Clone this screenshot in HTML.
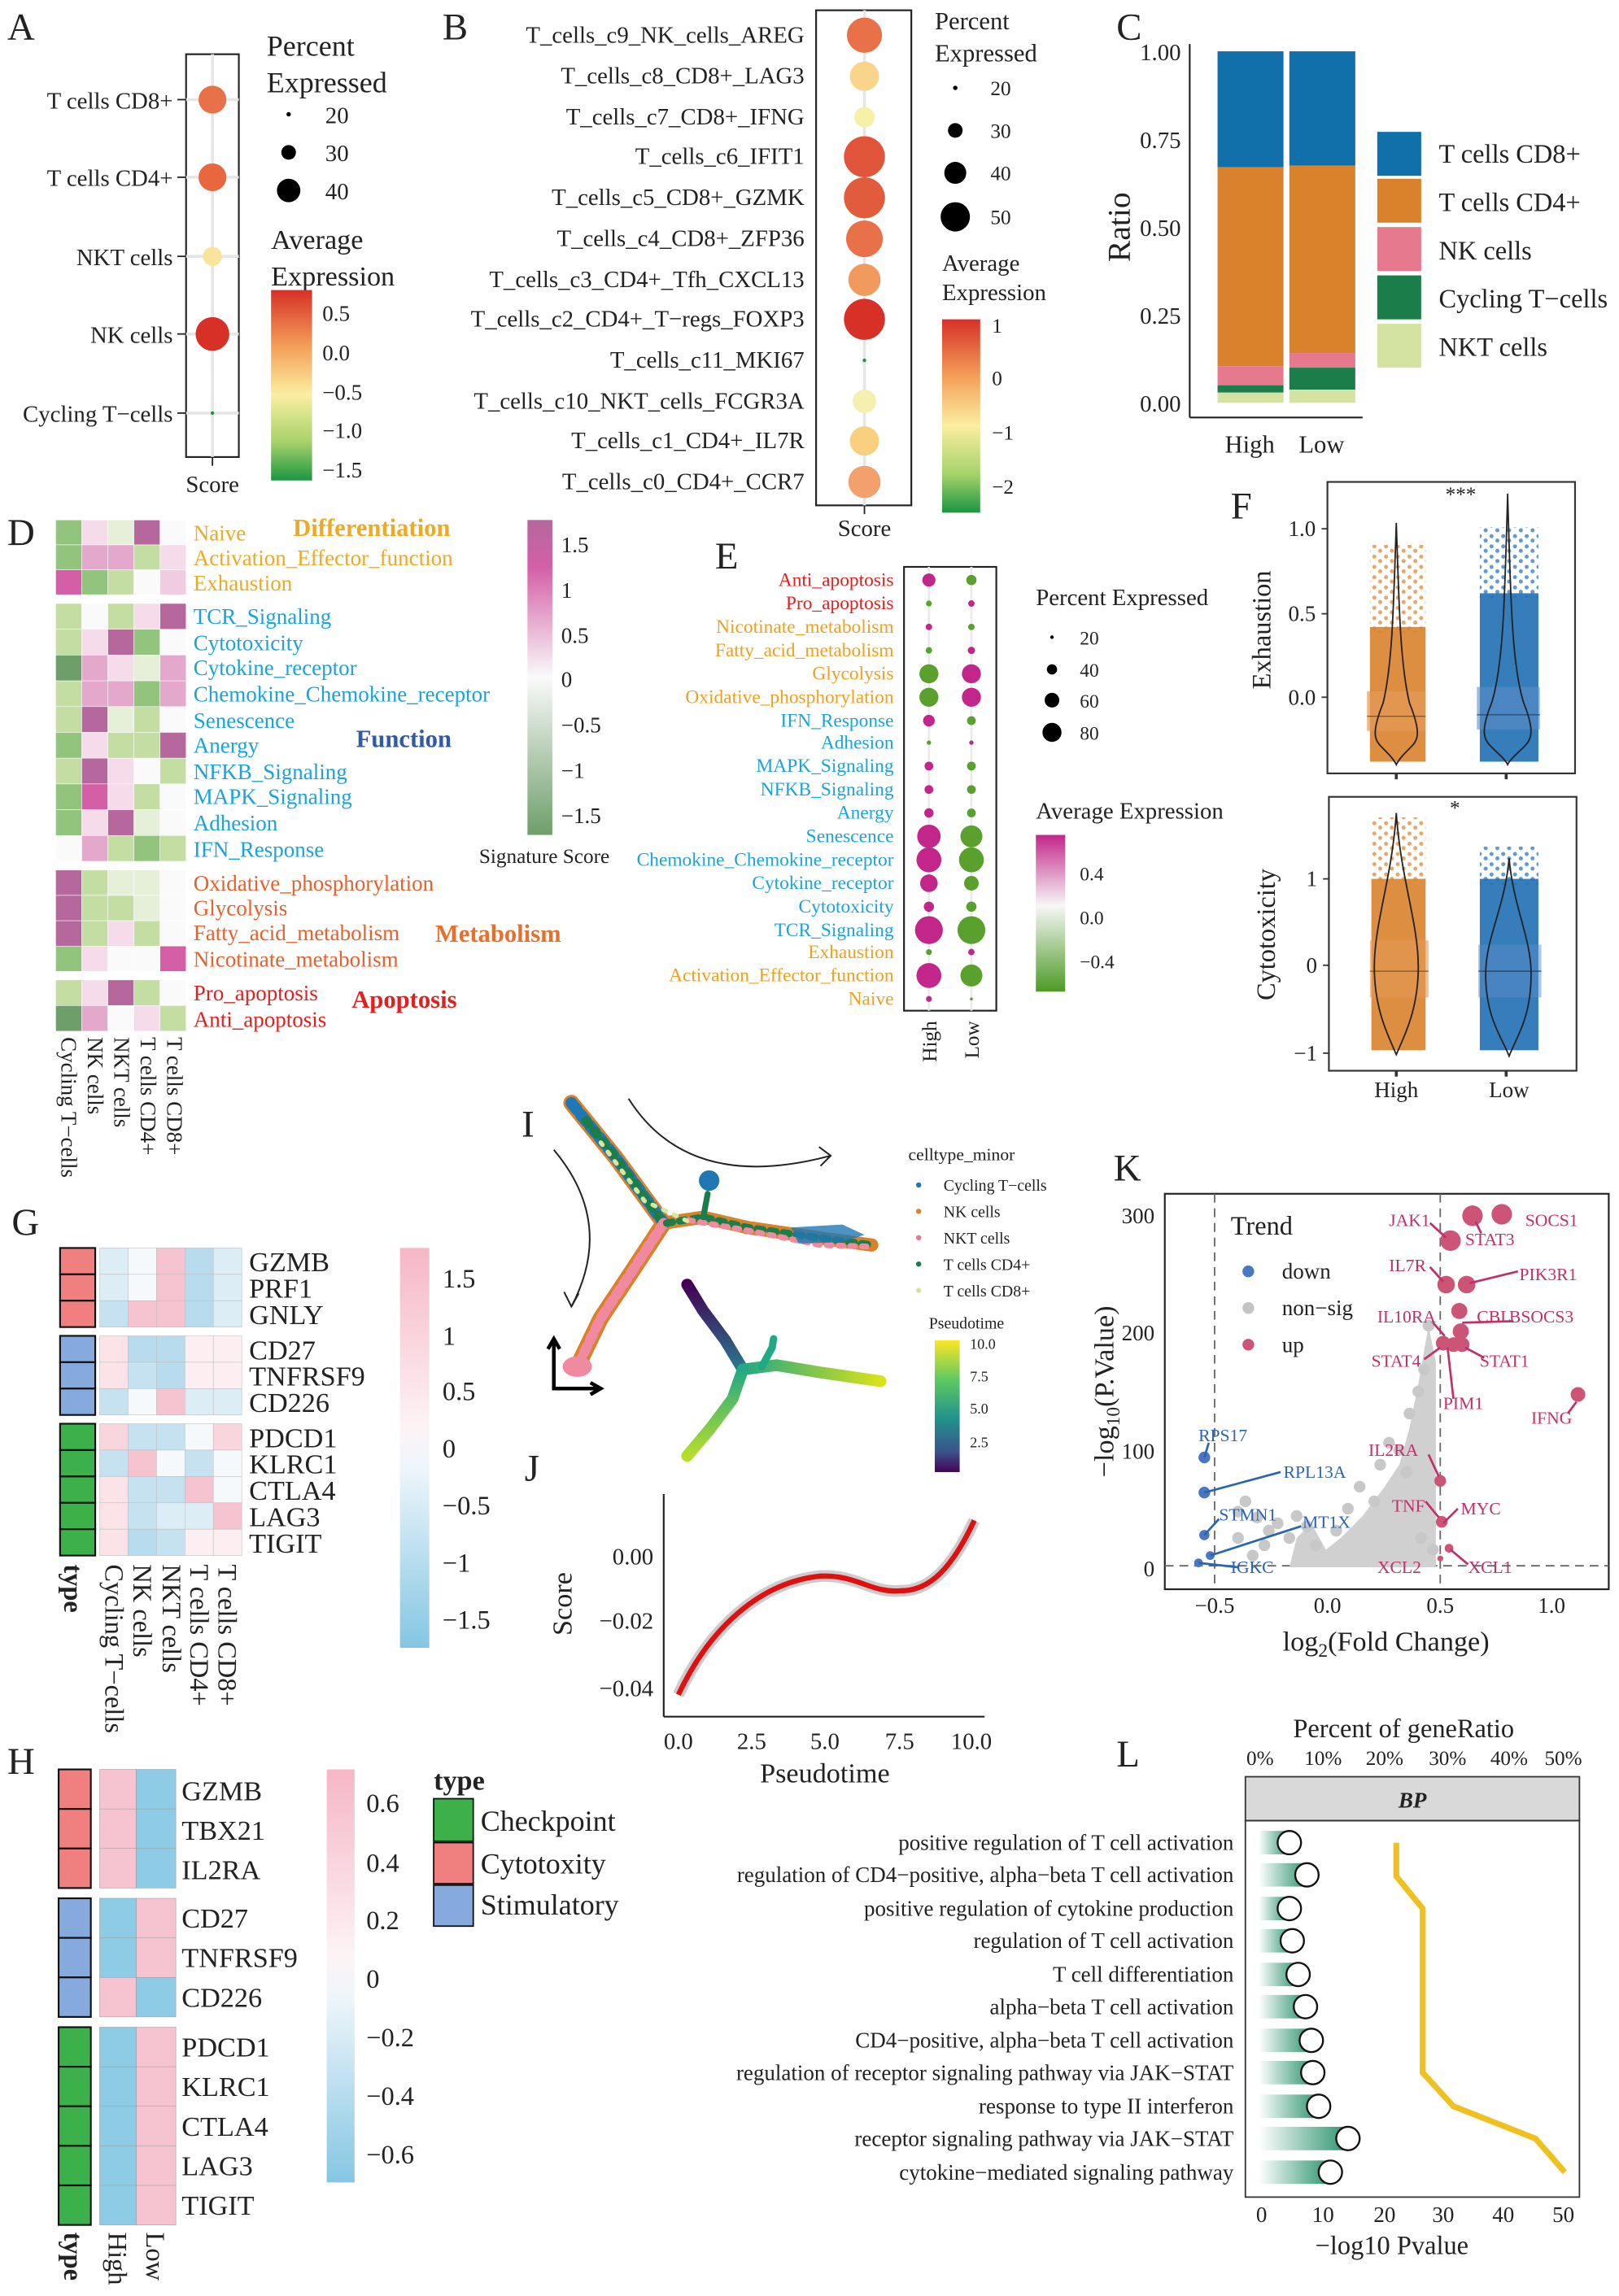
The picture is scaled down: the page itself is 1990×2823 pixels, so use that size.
<!DOCTYPE html>
<html><head><meta charset="utf-8"><style>
html,body{margin:0;padding:0;background:#fff}
svg{display:block}
text{font-family:"Liberation Serif",serif;fill:#222}
</style></head><body>
<svg width="1990" height="2823" viewBox="0 0 1105 1567.5" xmlns="http://www.w3.org/2000/svg">
<defs>
<linearGradient id="gA" x1="0" y1="0" x2="0" y2="1"><stop offset="0" stop-color="#d73027"/><stop offset="0.3" stop-color="#f4a05a"/><stop offset="0.55" stop-color="#fbeea0"/><stop offset="0.8" stop-color="#a6d26a"/><stop offset="1" stop-color="#1a9641"/></linearGradient>
<linearGradient id="gE" x1="0" y1="0" x2="0" y2="1"><stop offset="0" stop-color="#c2268a"/><stop offset="0.45" stop-color="#f7f7f7"/><stop offset="1" stop-color="#4d9a26"/></linearGradient>
<linearGradient id="gD" x1="0" y1="0" x2="0" y2="1"><stop offset="0" stop-color="#b5679e"/><stop offset="0.15" stop-color="#d45fa6"/><stop offset="0.5" stop-color="#fafafa"/><stop offset="1" stop-color="#6e9e6a"/></linearGradient>
<linearGradient id="gG" x1="0" y1="0" x2="0" y2="1"><stop offset="0" stop-color="#f6b6c6"/><stop offset="0.45" stop-color="#fdf3f5"/><stop offset="0.55" stop-color="#eef6fb"/><stop offset="1" stop-color="#86c6e3"/></linearGradient>
<linearGradient id="gV" x1="0" y1="0" x2="0" y2="1"><stop offset="0" stop-color="#fde725"/><stop offset="0.3" stop-color="#5ec962"/><stop offset="0.6" stop-color="#21918c"/><stop offset="0.85" stop-color="#3b528b"/><stop offset="1" stop-color="#440154"/></linearGradient>
<linearGradient id="gL" x1="0" y1="0" x2="1" y2="0"><stop offset="0" stop-color="#ffffff"/><stop offset="1" stop-color="#2e9470"/></linearGradient>
<linearGradient id="gR" x1="0" y1="0" x2="1" y2="0"><stop offset="0" stop-color="#22a884"/><stop offset="1" stop-color="#d8e219"/></linearGradient>
<linearGradient id="gT" x1="0" y1="0" x2="0" y2="1"><stop offset="0" stop-color="#440154"/><stop offset="1" stop-color="#2a788e"/></linearGradient>
<linearGradient id="gB" x1="0" y1="0" x2="0" y2="1"><stop offset="0" stop-color="#22a884"/><stop offset="1" stop-color="#b5de2b"/></linearGradient>
<pattern id="pO" width="8" height="7" patternUnits="userSpaceOnUse"><circle cx="2" cy="2" r="1.4" fill="#d9822b"/><circle cx="6" cy="5" r="1.4" fill="#d9822b"/></pattern>
<pattern id="pB" width="8" height="7" patternUnits="userSpaceOnUse"><circle cx="2" cy="2" r="1.4" fill="#1f6fb4"/><circle cx="6" cy="5" r="1.4" fill="#1f6fb4"/></pattern>
</defs>

<!-- Panel A -->
<text x="5" y="27" font-size="26">A</text>
<rect x="127" y="37" width="36" height="275" fill="none" stroke="#222" stroke-width="1.2"/>
<g stroke="#e6e6e6" stroke-width="2"><line x1="127" y1="68" x2="163" y2="68"/><line x1="127" y1="121" x2="163" y2="121"/><line x1="127" y1="175" x2="163" y2="175"/><line x1="127" y1="228" x2="163" y2="228"/><line x1="127" y1="282" x2="163" y2="282"/><line x1="145" y1="37" x2="145" y2="312"/></g>
<circle cx="145" cy="68" r="9.5" fill="#e8714a"/><circle cx="145" cy="121" r="9.5" fill="#e8673f"/><circle cx="145" cy="175" r="6.5" fill="#f8e49a"/><circle cx="145" cy="228" r="11.5" fill="#d73027"/><circle cx="145" cy="282" r="1.2" fill="#1a9641"/>
<g font-size="16" text-anchor="end"><text x="118" y="74">T cells CD8+</text><text x="118" y="127">T cells CD4+</text><text x="118" y="181">NKT cells</text><text x="118" y="234">NK cells</text><text x="118" y="288">Cycling T−cells</text></g>
<g stroke="#222"><line x1="121" y1="68" x2="127" y2="68"/><line x1="121" y1="121" x2="127" y2="121"/><line x1="121" y1="175" x2="127" y2="175"/><line x1="121" y1="228" x2="127" y2="228"/><line x1="121" y1="282" x2="127" y2="282"/><line x1="145" y1="312" x2="145" y2="318"/></g>
<text x="145" y="336" font-size="16" text-anchor="middle">Score</text>
<text x="182" y="38" font-size="20">Percent</text><text x="182" y="63" font-size="20">Expressed</text>
<circle cx="197" cy="78" r="1.5" fill="#000"/><circle cx="197" cy="104" r="5" fill="#000"/><circle cx="197" cy="130" r="8" fill="#000"/>
<g font-size="16"><text x="222" y="84">20</text><text x="222" y="110">30</text><text x="222" y="136">40</text></g>
<text x="185" y="170" font-size="19">Average</text><text x="185" y="195" font-size="19">Expression</text>
<rect x="185" y="198" width="28" height="130" fill="url(#gA)"/>
<g font-size="15"><text x="220" y="219">0.5</text><text x="220" y="246">0.0</text><text x="220" y="273">−0.5</text><text x="220" y="299">−1.0</text><text x="220" y="326">−1.5</text></g>

<!-- Panel B -->
<text x="302" y="27" font-size="26">B</text>
<rect x="557" y="7" width="65" height="338" fill="none" stroke="#222" stroke-width="1.2"/>
<g stroke="#e6e6e6" stroke-width="2"><line x1="590" y1="7" x2="590" y2="345"/></g>
<g font-size="16" text-anchor="end">
<text x="549" y="29">T_cells_c9_NK_cells_AREG</text><text x="549" y="57">T_cells_c8_CD8+_LAG3</text><text x="549" y="85">T_cells_c7_CD8+_IFNG</text><text x="549" y="112">T_cells_c6_IFIT1</text><text x="549" y="140">T_cells_c5_CD8+_GZMK</text><text x="549" y="168">T_cells_c4_CD8+_ZFP36</text><text x="549" y="196">T_cells_c3_CD4+_Tfh_CXCL13</text><text x="549" y="223">T_cells_c2_CD4+_T−regs_FOXP3</text><text x="549" y="251">T_cells_c11_MKI67</text><text x="549" y="279">T_cells_c10_NKT_cells_FCGR3A</text><text x="549" y="306">T_cells_c1_CD4+_IL7R</text><text x="549" y="334">T_cells_c0_CD4+_CCR7</text></g>
<circle cx="590" cy="24" r="12" fill="#e8714a"/><circle cx="590" cy="52" r="10" fill="#f8d58a"/><circle cx="590" cy="80" r="7" fill="#f7f0a8"/><circle cx="590" cy="107" r="14" fill="#e0553a"/><circle cx="590" cy="135" r="14" fill="#e05c3c"/><circle cx="590" cy="163" r="12.5" fill="#e8714a"/><circle cx="590" cy="191" r="11" fill="#f09a60"/><circle cx="590" cy="218" r="14" fill="#d73027"/><circle cx="590" cy="246" r="1.2" fill="#1a9641"/><circle cx="590" cy="274" r="8" fill="#f5f0b0"/><circle cx="590" cy="301" r="10" fill="#f8d080"/><circle cx="590" cy="329" r="11" fill="#f3a06a"/>
<line x1="590" y1="345" x2="590" y2="351" stroke="#222"/>
<text x="590" y="366" font-size="16" text-anchor="middle">Score</text>
<text x="638" y="20" font-size="17">Percent</text><text x="638" y="42" font-size="17">Expressed</text>
<circle cx="652" cy="60" r="1.5" fill="#000"/><circle cx="652" cy="89" r="5" fill="#000"/><circle cx="652" cy="118" r="7.5" fill="#000"/><circle cx="652" cy="148" r="10" fill="#000"/>
<g font-size="14"><text x="676" y="65">20</text><text x="676" y="94">30</text><text x="676" y="123">40</text><text x="676" y="153">50</text></g>
<text x="643" y="185" font-size="16">Average</text><text x="643" y="205" font-size="16">Expression</text>
<rect x="643" y="218" width="26" height="132" fill="url(#gA)"/>
<g font-size="14"><text x="677" y="227">1</text><text x="677" y="263">0</text><text x="677" y="300">−1</text><text x="677" y="337">−2</text></g>

<!-- Panel C -->
<text x="762" y="27" font-size="26">C</text>
<line x1="812" y1="30" x2="812" y2="285" stroke="#222" stroke-width="1.2"/><line x1="812" y1="285" x2="930" y2="285" stroke="#222" stroke-width="1.2"/>
<g font-size="16" text-anchor="end"><text x="806" y="41">1.00</text><text x="806" y="101">0.75</text><text x="806" y="161">0.50</text><text x="806" y="221">0.25</text><text x="806" y="281">0.00</text></g>
<rect x="831" y="35" width="45" height="80" fill="#1170aa"/><rect x="831" y="114" width="45" height="136" fill="#d9822b"/><rect x="831" y="250" width="45" height="13" fill="#e7798f"/><rect x="831" y="263" width="45" height="5" fill="#1a7d4a"/><rect x="831" y="268" width="45" height="7" fill="#d4e3a2"/>
<rect x="880" y="35" width="45" height="78" fill="#1170aa"/><rect x="880" y="113" width="45" height="128" fill="#d9822b"/><rect x="880" y="241" width="45" height="10" fill="#e7798f"/><rect x="880" y="251" width="45" height="15" fill="#1a7d4a"/><rect x="880" y="266" width="45" height="9" fill="#d4e3a2"/>
<text transform="translate(771,155) rotate(-90)" font-size="22" text-anchor="middle">Ratio</text>
<g font-size="17" text-anchor="middle"><text x="853" y="309">High</text><text x="902" y="309">Low</text></g>
<rect x="940" y="90" width="30" height="30" fill="#1170aa"/><rect x="940" y="122" width="30" height="30" fill="#d9822b"/><rect x="940" y="155" width="30" height="30" fill="#e7798f"/><rect x="940" y="188" width="30" height="30" fill="#1a7d4a"/><rect x="940" y="221" width="30" height="30" fill="#d4e3a2"/>
<g font-size="18"><text x="982" y="111">T cells CD8+</text><text x="982" y="144">T cells CD4+</text><text x="982" y="177">NK cells</text><text x="982" y="210">Cycling T−cells</text><text x="982" y="243">NKT cells</text></g>

<!-- Panel D -->
<text x="5" y="372" font-size="26">D</text>
<g stroke="#fff" stroke-width="0.3">
<rect x="38" y="355" width="17.8" height="17" fill="#93c47d"/><rect x="55.8" y="355" width="17.8" height="17" fill="#f6dceb"/><rect x="73.6" y="355" width="17.8" height="17" fill="#e6f0d8"/><rect x="91.4" y="355" width="17.8" height="17" fill="#b5679e"/><rect x="109.2" y="355" width="17.8" height="17" fill="#fafafa"/>
<rect x="38" y="372" width="17.8" height="17" fill="#93c47d"/><rect x="55.8" y="372" width="17.8" height="17" fill="#e3a8cc"/><rect x="73.6" y="372" width="17.8" height="17" fill="#e3a8cc"/><rect x="91.4" y="372" width="17.8" height="17" fill="#c4dda3"/><rect x="109.2" y="372" width="17.8" height="17" fill="#f6dceb"/>
<rect x="38" y="389" width="17.8" height="17" fill="#d45fa6"/><rect x="55.8" y="389" width="17.8" height="17" fill="#93c47d"/><rect x="73.6" y="389" width="17.8" height="17" fill="#c4dda3"/><rect x="91.4" y="389" width="17.8" height="17" fill="#fafafa"/><rect x="109.2" y="389" width="17.8" height="17" fill="#f1cbe0"/>
</g>
<g stroke="#fff" stroke-width="0.3">
<rect x="38" y="412" width="17.8" height="17.6" fill="#c4dda3"/><rect x="55.8" y="412" width="17.8" height="17.6" fill="#fafafa"/><rect x="73.6" y="412" width="17.8" height="17.6" fill="#c4dda3"/><rect x="91.4" y="412" width="17.8" height="17.6" fill="#f6dceb"/><rect x="109.2" y="412" width="17.8" height="17.6" fill="#b5679e"/>
<rect x="38" y="429.6" width="17.8" height="17.6" fill="#c4dda3"/><rect x="55.8" y="429.6" width="17.8" height="17.6" fill="#f6dceb"/><rect x="73.6" y="429.6" width="17.8" height="17.6" fill="#b5679e"/><rect x="91.4" y="429.6" width="17.8" height="17.6" fill="#93c47d"/><rect x="109.2" y="429.6" width="17.8" height="17.6" fill="#fafafa"/>
<rect x="38" y="447.2" width="17.8" height="17.6" fill="#6e9e6a"/><rect x="55.8" y="447.2" width="17.8" height="17.6" fill="#e3a8cc"/><rect x="73.6" y="447.2" width="17.8" height="17.6" fill="#f6dceb"/><rect x="91.4" y="447.2" width="17.8" height="17.6" fill="#e6f0d8"/><rect x="109.2" y="447.2" width="17.8" height="17.6" fill="#e3a8cc"/>
<rect x="38" y="464.8" width="17.8" height="17.6" fill="#c4dda3"/><rect x="55.8" y="464.8" width="17.8" height="17.6" fill="#e3a8cc"/><rect x="73.6" y="464.8" width="17.8" height="17.6" fill="#e3a8cc"/><rect x="91.4" y="464.8" width="17.8" height="17.6" fill="#93c47d"/><rect x="109.2" y="464.8" width="17.8" height="17.6" fill="#e3a8cc"/>
<rect x="38" y="482.4" width="17.8" height="17.6" fill="#c4dda3"/><rect x="55.8" y="482.4" width="17.8" height="17.6" fill="#b5679e"/><rect x="73.6" y="482.4" width="17.8" height="17.6" fill="#e6f0d8"/><rect x="91.4" y="482.4" width="17.8" height="17.6" fill="#c4dda3"/><rect x="109.2" y="482.4" width="17.8" height="17.6" fill="#fafafa"/>
<rect x="38" y="500" width="17.8" height="17.6" fill="#93c47d"/><rect x="55.8" y="500" width="17.8" height="17.6" fill="#f6dceb"/><rect x="73.6" y="500" width="17.8" height="17.6" fill="#c4dda3"/><rect x="91.4" y="500" width="17.8" height="17.6" fill="#c4dda3"/><rect x="109.2" y="500" width="17.8" height="17.6" fill="#b5679e"/>
<rect x="38" y="517.6" width="17.8" height="17.6" fill="#c4dda3"/><rect x="55.8" y="517.6" width="17.8" height="17.6" fill="#b5679e"/><rect x="73.6" y="517.6" width="17.8" height="17.6" fill="#f6dceb"/><rect x="91.4" y="517.6" width="17.8" height="17.6" fill="#fafafa"/><rect x="109.2" y="517.6" width="17.8" height="17.6" fill="#c4dda3"/>
<rect x="38" y="535.2" width="17.8" height="17.6" fill="#93c47d"/><rect x="55.8" y="535.2" width="17.8" height="17.6" fill="#d45fa6"/><rect x="73.6" y="535.2" width="17.8" height="17.6" fill="#f6dceb"/><rect x="91.4" y="535.2" width="17.8" height="17.6" fill="#c4dda3"/><rect x="109.2" y="535.2" width="17.8" height="17.6" fill="#fafafa"/>
<rect x="38" y="552.8" width="17.8" height="17.6" fill="#93c47d"/><rect x="55.8" y="552.8" width="17.8" height="17.6" fill="#f6dceb"/><rect x="73.6" y="552.8" width="17.8" height="17.6" fill="#b5679e"/><rect x="91.4" y="552.8" width="17.8" height="17.6" fill="#e6f0d8"/><rect x="109.2" y="552.8" width="17.8" height="17.6" fill="#fafafa"/>
<rect x="38" y="570.4" width="17.8" height="17.6" fill="#fafafa"/><rect x="55.8" y="570.4" width="17.8" height="17.6" fill="#e3a8cc"/><rect x="73.6" y="570.4" width="17.8" height="17.6" fill="#c4dda3"/><rect x="91.4" y="570.4" width="17.8" height="17.6" fill="#93c47d"/><rect x="109.2" y="570.4" width="17.8" height="17.6" fill="#c4dda3"/>
</g>
<g stroke="#fff" stroke-width="0.3">
<rect x="38" y="594" width="17.8" height="17.3" fill="#b5679e"/><rect x="55.8" y="594" width="17.8" height="17.3" fill="#c4dda3"/><rect x="73.6" y="594" width="17.8" height="17.3" fill="#e6f0d8"/><rect x="91.4" y="594" width="17.8" height="17.3" fill="#e6f0d8"/><rect x="109.2" y="594" width="17.8" height="17.3" fill="#fafafa"/>
<rect x="38" y="611.3" width="17.8" height="17.3" fill="#b5679e"/><rect x="55.8" y="611.3" width="17.8" height="17.3" fill="#c4dda3"/><rect x="73.6" y="611.3" width="17.8" height="17.3" fill="#c4dda3"/><rect x="91.4" y="611.3" width="17.8" height="17.3" fill="#e6f0d8"/><rect x="109.2" y="611.3" width="17.8" height="17.3" fill="#fafafa"/>
<rect x="38" y="628.6" width="17.8" height="17.3" fill="#b5679e"/><rect x="55.8" y="628.6" width="17.8" height="17.3" fill="#c4dda3"/><rect x="73.6" y="628.6" width="17.8" height="17.3" fill="#f6dceb"/><rect x="91.4" y="628.6" width="17.8" height="17.3" fill="#c4dda3"/><rect x="109.2" y="628.6" width="17.8" height="17.3" fill="#fafafa"/>
<rect x="38" y="645.9" width="17.8" height="17.3" fill="#93c47d"/><rect x="55.8" y="645.9" width="17.8" height="17.3" fill="#f6dceb"/><rect x="73.6" y="645.9" width="17.8" height="17.3" fill="#fafafa"/><rect x="91.4" y="645.9" width="17.8" height="17.3" fill="#fafafa"/><rect x="109.2" y="645.9" width="17.8" height="17.3" fill="#d45fa6"/>
<rect x="38" y="669" width="17.8" height="17.5" fill="#c4dda3"/><rect x="55.8" y="669" width="17.8" height="17.5" fill="#f6dceb"/><rect x="73.6" y="669" width="17.8" height="17.5" fill="#b5679e"/><rect x="91.4" y="669" width="17.8" height="17.5" fill="#c4dda3"/><rect x="109.2" y="669" width="17.8" height="17.5" fill="#fafafa"/>
<rect x="38" y="686.5" width="17.8" height="17.5" fill="#6e9e6a"/><rect x="55.8" y="686.5" width="17.8" height="17.5" fill="#e3a8cc"/><rect x="73.6" y="686.5" width="17.8" height="17.5" fill="#fafafa"/><rect x="91.4" y="686.5" width="17.8" height="17.5" fill="#f6dceb"/><rect x="109.2" y="686.5" width="17.8" height="17.5" fill="#c4dda3"/>
</g>
<g font-size="15">
<text x="132" y="369" style="fill:#eeaa22">Naive</text><text x="132" y="386" style="fill:#eeaa22">Activation_Effector_function</text><text x="132" y="403" style="fill:#eeaa22">Exhaustion</text>
<text x="132" y="426" style="fill:#1aa3dc">TCR_Signaling</text><text x="132" y="444" style="fill:#1aa3dc">Cytotoxicity</text><text x="132" y="461" style="fill:#1aa3dc">Cytokine_receptor</text><text x="132" y="479" style="fill:#1aa3dc">Chemokine_Chemokine_receptor</text><text x="132" y="497" style="fill:#1aa3dc">Senescence</text><text x="132" y="514" style="fill:#1aa3dc">Anergy</text><text x="132" y="532" style="fill:#1aa3dc">NFKB_Signaling</text><text x="132" y="549" style="fill:#1aa3dc">MAPK_Signaling</text><text x="132" y="567" style="fill:#1aa3dc">Adhesion</text><text x="132" y="585" style="fill:#1aa3dc">IFN_Response</text>
<text x="132" y="608" style="fill:#e8602c">Oxidative_phosphorylation</text><text x="132" y="625" style="fill:#e8602c">Glycolysis</text><text x="132" y="642" style="fill:#e8602c">Fatty_acid_metabolism</text><text x="132" y="660" style="fill:#e8602c">Nicotinate_metabolism</text>
<text x="132" y="683" style="fill:#e32020">Pro_apoptosis</text><text x="132" y="701" style="fill:#e32020">Anti_apoptosis</text>
</g>
<g font-size="17" font-weight="bold"><text x="200" y="366" style="fill:#eeaa22">Differentiation</text><text x="243" y="510" style="fill:#2e5aa8">Function</text><text x="297" y="643" style="fill:#e8702c">Metabolism</text><text x="240" y="688" style="fill:#e32020">Apoptosis</text></g>
<g font-size="15"><text transform="translate(42,708) rotate(90)">Cycling T−cells</text><text transform="translate(60,708) rotate(90)">NK cells</text><text transform="translate(78,708) rotate(90)">NKT cells</text><text transform="translate(96,708) rotate(90)">T cells CD4+</text><text transform="translate(114,708) rotate(90)">T cells CD8+</text></g>
<rect x="360" y="355" width="17" height="215" fill="url(#gD)"/>
<g font-size="15"><text x="383" y="377">1.5</text><text x="383" y="408">1</text><text x="383" y="439">0.5</text><text x="383" y="469">0</text><text x="383" y="500">−0.5</text><text x="383" y="531">−1</text><text x="383" y="562">−1.5</text></g>
<text x="327" y="589" font-size="14">Signature Score</text>

<!-- Panel E -->
<text x="488" y="388" font-size="26">E</text>
<rect x="617" y="387" width="63" height="303" fill="none" stroke="#222" stroke-width="1.2"/>
<g stroke="#eaeaea" stroke-width="1.5"><line x1="634" y1="387" x2="634" y2="690"/><line x1="663" y1="387" x2="663" y2="690"/></g>
<g font-size="13" text-anchor="end">
<text x="610" y="400" style="fill:#e32020">Anti_apoptosis</text><text x="610" y="416" style="fill:#e32020">Pro_apoptosis</text><text x="610" y="432" style="fill:#f0a020">Nicotinate_metabolism</text><text x="610" y="448" style="fill:#f0a020">Fatty_acid_metabolism</text><text x="610" y="464" style="fill:#f0a020">Glycolysis</text><text x="610" y="480" style="fill:#f0a020">Oxidative_phosphorylation</text><text x="610" y="496" style="fill:#1aa3dc">IFN_Response</text><text x="610" y="511" style="fill:#1aa3dc">Adhesion</text><text x="610" y="527" style="fill:#1aa3dc">MAPK_Signaling</text><text x="610" y="543" style="fill:#1aa3dc">NFKB_Signaling</text><text x="610" y="559" style="fill:#1aa3dc">Anergy</text><text x="610" y="575" style="fill:#1aa3dc">Senescence</text><text x="610" y="591" style="fill:#1aa3dc">Chemokine_Chemokine_receptor</text><text x="610" y="607" style="fill:#1aa3dc">Cytokine_receptor</text><text x="610" y="623" style="fill:#1aa3dc">Cytotoxicity</text><text x="610" y="639" style="fill:#1aa3dc">TCR_Signaling</text><text x="610" y="654" style="fill:#f0a020">Exhaustion</text><text x="610" y="670" style="fill:#f0a020">Activation_Effector_function</text><text x="610" y="686" style="fill:#f0a020">Naive</text></g>
<g>
<circle cx="634" cy="396" r="4.5" fill="#c2268a"/><circle cx="663" cy="396" r="3.5" fill="#5aa02c"/>
<circle cx="634" cy="412" r="2" fill="#5aa02c"/><circle cx="663" cy="412" r="2.2" fill="#c2268a"/>
<circle cx="634" cy="428" r="2.2" fill="#c2268a"/><circle cx="663" cy="428" r="2.2" fill="#5aa02c"/>
<circle cx="634" cy="444" r="2.2" fill="#5aa02c"/><circle cx="663" cy="444" r="2.5" fill="#c2268a"/>
<circle cx="634" cy="460" r="6.5" fill="#5aa02c"/><circle cx="663" cy="460" r="6.5" fill="#c2268a"/>
<circle cx="634" cy="476" r="6.5" fill="#5aa02c"/><circle cx="663" cy="476" r="6.5" fill="#c2268a"/>
<circle cx="634" cy="492" r="4" fill="#c2268a"/><circle cx="663" cy="492" r="3" fill="#5aa02c"/>
<circle cx="634" cy="507" r="1.5" fill="#5aa02c"/><circle cx="663" cy="507" r="1.5" fill="#c2268a"/>
<circle cx="634" cy="523" r="3" fill="#c2268a"/><circle cx="663" cy="523" r="3" fill="#5aa02c"/>
<circle cx="634" cy="539" r="3" fill="#c2268a"/><circle cx="663" cy="539" r="3" fill="#5aa02c"/>
<circle cx="634" cy="555" r="3.2" fill="#c2268a"/><circle cx="663" cy="555" r="3" fill="#5aa02c"/>
<circle cx="634" cy="571" r="8" fill="#c2268a"/><circle cx="663" cy="571" r="7.5" fill="#5aa02c"/>
<circle cx="634" cy="587" r="8.5" fill="#c2268a"/><circle cx="663" cy="587" r="8.5" fill="#5aa02c"/>
<circle cx="634" cy="603" r="6" fill="#c2268a"/><circle cx="663" cy="603" r="5" fill="#5aa02c"/>
<circle cx="634" cy="619" r="3.5" fill="#c2268a"/><circle cx="663" cy="619" r="3.5" fill="#5aa02c"/>
<circle cx="634" cy="635" r="9.5" fill="#c2268a"/><circle cx="663" cy="635" r="9.5" fill="#5aa02c"/>
<circle cx="634" cy="650" r="2" fill="#5aa02c"/><circle cx="663" cy="650" r="2.2" fill="#c2268a"/>
<circle cx="634" cy="666" r="8.5" fill="#c2268a"/><circle cx="663" cy="666" r="7.5" fill="#5aa02c"/>
<circle cx="634" cy="682" r="2" fill="#c2268a"/><circle cx="663" cy="682" r="1" fill="#5aa02c"/>
</g>
<g font-size="14" text-anchor="end"><text transform="translate(639,697) rotate(-90)">High</text><text transform="translate(668,697) rotate(-90)">Low</text></g>
<text x="707" y="413" font-size="16">Percent Expressed</text>
<circle cx="718" cy="435" r="1.2" fill="#000"/><circle cx="718" cy="457" r="3.5" fill="#000"/><circle cx="718" cy="478" r="5" fill="#000"/><circle cx="718" cy="500" r="6.5" fill="#000"/>
<g font-size="13"><text x="737" y="440">20</text><text x="737" y="462">40</text><text x="737" y="483">60</text><text x="737" y="505">80</text></g>
<text x="707" y="559" font-size="16">Average Expression</text>
<rect x="707" y="570" width="20" height="107" fill="url(#gE)"/>
<g font-size="13"><text x="737" y="601">0.4</text><text x="737" y="631">0.0</text><text x="737" y="661">−0.4</text></g>

<!-- Panel F -->
<text x="840" y="354" font-size="26">F</text>
<rect x="906" y="329" width="169" height="199" fill="none" stroke="#333" stroke-width="1.2"/>
<rect x="907" y="544" width="169" height="187" fill="none" stroke="#333" stroke-width="1.2"/>
<g stroke="#333"><line x1="902" y1="361" x2="906" y2="361"/><line x1="902" y1="419" x2="906" y2="419"/><line x1="902" y1="476" x2="906" y2="476"/><line x1="903" y1="600" x2="907" y2="600"/><line x1="903" y1="659" x2="907" y2="659"/><line x1="903" y1="719" x2="907" y2="719"/><line x1="953" y1="528" x2="953" y2="532" stroke-width="2"/><line x1="1028" y1="528" x2="1028" y2="532" stroke-width="2"/><line x1="953" y1="731" x2="953" y2="735" stroke-width="2"/><line x1="1028" y1="731" x2="1028" y2="735" stroke-width="2"/></g>
<g font-size="15" text-anchor="end" style="fill:#444"><text x="898" y="366">1.0</text><text x="898" y="424">0.5</text><text x="898" y="481">0.0</text><text x="899" y="605">1</text><text x="899" y="664">0</text><text x="899" y="724">−1</text></g>
<text transform="translate(867,430) rotate(-90)" font-size="18" text-anchor="middle">Exhaustion</text>
<text transform="translate(870,638) rotate(-90)" font-size="18" text-anchor="middle">Cytotoxicity</text>
<text x="997" y="342" font-size="14" text-anchor="middle">***</text><text x="993" y="556" font-size="14" text-anchor="middle">*</text>
<!-- top clouds -->
<rect x="935" y="372" width="38" height="60" fill="url(#pO)" opacity="0.7"/>
<rect x="935" y="428" width="38" height="92" fill="#d9822b" opacity="0.9"/>
<rect x="1010" y="360" width="40" height="48" fill="url(#pB)" opacity="0.7"/>
<rect x="1010" y="405" width="40" height="115" fill="#1f6fb4" opacity="0.9"/>
<rect x="933" y="472" width="40" height="27" fill="#e49a55" opacity="0.7"/><line x1="933" y1="489" x2="973" y2="489" stroke="#7a4a10" stroke-width="0.6"/>
<rect x="1008" y="469" width="43" height="29" fill="#5a8cc8" opacity="0.6"/><line x1="1008" y1="488" x2="1051" y2="488" stroke="#1a3a60" stroke-width="0.6"/>
<path d="M953,357 C955,420 956,455 962,480 C970,500 968,505 963,510 C958,515 955,518 953,522 C951,518 948,515 943,510 C938,505 936,500 944,480 C950,455 951,420 953,357Z" fill="none" stroke="#222" stroke-width="1"/>
<path d="M1029,337 C1031,410 1032,455 1040,480 C1048,500 1045,505 1040,510 C1035,515 1031,518 1029,522 C1027,518 1023,515 1018,510 C1013,505 1010,500 1018,480 C1026,455 1027,410 1029,337Z" fill="none" stroke="#222" stroke-width="1"/>
<!-- bottom -->
<rect x="936" y="558" width="37" height="45" fill="url(#pO)" opacity="0.7"/>
<rect x="936" y="600" width="37" height="117" fill="#d9822b" opacity="0.9"/>
<rect x="1010" y="578" width="40" height="26" fill="url(#pB)" opacity="0.7"/>
<rect x="1010" y="600" width="40" height="117" fill="#1f6fb4" opacity="0.9"/>
<rect x="935" y="642" width="40" height="39" fill="#e49a55" opacity="0.6"/><line x1="935" y1="663" x2="975" y2="663" stroke="#7a4a10" stroke-width="0.6"/>
<rect x="1009" y="645" width="43" height="36" fill="#5a8cc8" opacity="0.5"/><line x1="1009" y1="663" x2="1052" y2="663" stroke="#1a3a60" stroke-width="0.6"/>
<path d="M953,555 C956,600 968,630 968,660 C968,690 958,708 953,720 C948,708 938,690 938,660 C938,630 950,600 953,555Z" fill="none" stroke="#222" stroke-width="1"/>
<path d="M1030,586 C1033,620 1045,640 1045,665 C1045,695 1035,708 1030,721 C1025,708 1014,695 1014,665 C1014,640 1027,620 1030,586Z" fill="none" stroke="#222" stroke-width="1"/>
<g font-size="15" text-anchor="middle" style="fill:#444"><text x="953" y="749">High</text><text x="1030" y="749">Low</text></g>

<!-- Panel I -->
<text x="356" y="776" font-size="26">I</text>
<g fill="none" stroke-linecap="round" stroke-linejoin="round">
<polyline points="390,753 420,790 453,835 430,870 410,900 396,929" stroke="#d9822b" stroke-width="11"/>
<polyline points="453,835 480,831 510,838 544,843 595,850" stroke="#d9822b" stroke-width="9"/>
<polyline points="390,753 420,790 453,835" stroke="#1f77b4" stroke-width="8" stroke-dasharray="6 4"/>
<polyline points="400,765 420,790 453,835 430,870 410,900" stroke="#1a7d4a" stroke-width="6" stroke-dasharray="3 6"/>
<polyline points="453,835 430,870 410,900 396,929" stroke="#f08aa0" stroke-width="7" stroke-dasharray="5 4"/>
<polyline points="455,835 480,831 510,838 544,843 595,850" stroke="#1a7d4a" stroke-width="5" stroke-dasharray="4 5"/>
<polyline points="470,833 510,840 560,850 592,851" stroke="#f08aa0" stroke-width="4" stroke-dasharray="3 5"/>
<polyline points="410,780 440,820 470,834" stroke="#d8e6a0" stroke-width="3" stroke-dasharray="2 6"/>
<polyline points="480,831 483,815" stroke="#1a7d4a" stroke-width="4"/>
</g>
<path d="M540,838 L575,836 L590,843 L575,848 L545,849Z" fill="#1f77b4" opacity="0.8"/>
<circle cx="484" cy="806" r="7" fill="#1f77b4"/><ellipse cx="394" cy="933" rx="10" ry="7" fill="#f08aa0"/>
<g fill="none" stroke-linecap="round" stroke-linejoin="round">
<polyline points="469,877 480,895 495,915 507,935" stroke="url(#gT)" stroke-width="8"/>
<polyline points="507,935 530,932 560,937 601,943" stroke="url(#gR)" stroke-width="8"/>
<polyline points="507,935 500,955 485,975 469,994" stroke="url(#gB)" stroke-width="8"/>
<polyline points="520,933 527,920 528,914" stroke="#22a884" stroke-width="5"/>
</g>
<g fill="none" stroke="#222" stroke-width="1.1"><path d="M429,750 Q470,815 567,789"/><path d="M559,783 L567,789 L560,796"/><path d="M378,785 Q420,835 390,892"/><path d="M385,882 L390,892 L395,883"/></g>
<g fill="none" stroke="#000" stroke-width="2.5"><path d="M378,914 L378,948 L410,948"/><path d="M374,921 L378,914 L382,921"/><path d="M403,944 L410,948 L403,952"/></g>
<text x="620" y="792" font-size="12">celltype_minor</text>
<circle cx="627" cy="809" r="1.8" fill="#1f77b4"/><circle cx="627" cy="827" r="1.8" fill="#d9822b"/><circle cx="627" cy="845" r="1.8" fill="#e7798f"/><circle cx="627" cy="863" r="1.8" fill="#1a7d4a"/><circle cx="627" cy="881" r="1.8" fill="#d4e3a2"/>
<g font-size="11"><text x="644" y="813">Cycling T−cells</text><text x="644" y="831">NK cells</text><text x="644" y="849">NKT cells</text><text x="644" y="867">T cells CD4+</text><text x="644" y="885">T cells CD8+</text></g>
<text x="634" y="907" font-size="11">Pseudotime</text>
<rect x="638" y="915" width="17" height="90" fill="url(#gV)"/>
<g font-size="10"><text x="662" y="921">10.0</text><text x="662" y="943">7.5</text><text x="662" y="965">5.0</text><text x="662" y="988">2.5</text></g>

<!-- Panel J -->
<text x="358" y="1011" font-size="26">J</text>
<line x1="453" y1="1020" x2="453" y2="1172" stroke="#222" stroke-width="1.2"/><line x1="453" y1="1172" x2="672" y2="1172" stroke="#222" stroke-width="1.2"/>
<g font-size="16" text-anchor="end"><text x="446" y="1068">0.00</text><text x="446" y="1112">−0.02</text><text x="446" y="1158">−0.04</text></g>
<g font-size="16" text-anchor="middle"><text x="463" y="1194">0.0</text><text x="513" y="1194">2.5</text><text x="563" y="1194">5.0</text><text x="614" y="1194">7.5</text><text x="663" y="1194">10.0</text></g>
<text transform="translate(390,1095) rotate(-90)" font-size="19" text-anchor="middle">Score</text>
<text x="563" y="1217" font-size="19" text-anchor="middle">Pseudotime</text>
<path d="M463,1157 C485,1110 520,1080 560,1076 C585,1075 595,1088 615,1086 C635,1086 650,1070 665,1038" fill="none" stroke="#cccccc" stroke-width="8"/>
<path d="M463,1157 C485,1110 520,1080 560,1076 C585,1075 595,1088 615,1086 C635,1086 650,1070 665,1038" fill="none" stroke="#e01010" stroke-width="3.5"/>

<!-- Panel K -->
<text x="760" y="806" font-size="26">K</text>
<rect x="795" y="815" width="303" height="270" fill="none" stroke="#222" stroke-width="1.2"/>
<g font-size="15" text-anchor="end"><text x="788" y="835">300</text><text x="788" y="915">200</text><text x="788" y="996">100</text><text x="788" y="1076">0</text></g>
<g font-size="15" text-anchor="middle"><text x="829" y="1101">−0.5</text><text x="906" y="1101">0.0</text><text x="983" y="1101">0.5</text><text x="1059" y="1101">1.0</text></g>
<g stroke="#666" stroke-dasharray="6 4" stroke-width="1"><line x1="829" y1="815" x2="829" y2="1085"/><line x1="983" y1="815" x2="983" y2="1085"/><line x1="795" y1="1069" x2="1098" y2="1069"/></g>
<text x="946" y="1127" font-size="19" text-anchor="middle">log<tspan font-size="13" dy="4">2</tspan><tspan dy="-4">(Fold Change)</tspan></text>
<text transform="translate(760,950) rotate(-90)" font-size="19" text-anchor="middle">−log<tspan font-size="13" dy="4">10</tspan><tspan dy="-4">(P.Value)</tspan></text>
<path d="M880,1070 L885,1050 L895,1040 L905,1058 L915,1050 L930,1035 L945,1015 L955,1000 L962,975 L968,945 L975,905 L980,930 L980,1070Z" fill="#d0d0d0"/>
<g fill="#c8c8c8">
<circle cx="845" cy="1032" r="4"/><circle cx="850" cy="1025" r="4"/><circle cx="858" cy="1036" r="4"/><circle cx="866" cy="1045" r="4"/><circle cx="872" cy="1040" r="4"/><circle cx="880" cy="1050" r="4"/><circle cx="863" cy="1055" r="4"/><circle cx="885" cy="1035" r="4"/><circle cx="892" cy="1042" r="4"/><circle cx="898" cy="1055" r="4"/><circle cx="855" cy="1062" r="4"/><circle cx="845" cy="1050" r="4"/><circle cx="920" cy="1030" r="4"/><circle cx="928" cy="1015" r="4"/><circle cx="942" cy="1000" r="4"/><circle cx="948" cy="985" r="4"/><circle cx="955" cy="990" r="4"/><circle cx="962" cy="965" r="4"/><circle cx="968" cy="950" r="4"/><circle cx="972" cy="935" r="4"/><circle cx="975" cy="905" r="4"/><circle cx="960" cy="1005" r="4"/><circle cx="970" cy="1050" r="4"/><circle cx="978" cy="1058" r="4"/><circle cx="938" cy="1025" r="4"/><circle cx="912" cy="1045" r="4"/>
</g>
<g fill="#cc5577"><circle cx="1005" cy="830" r="7"/><circle cx="1025" cy="829" r="7"/><circle cx="990" cy="847" r="7"/><circle cx="987" cy="877" r="6"/><circle cx="1001" cy="877" r="6"/><circle cx="996" cy="895" r="5.5"/><circle cx="997" cy="909" r="5.5"/><circle cx="985" cy="917" r="5"/><circle cx="992" cy="918" r="5"/><circle cx="998" cy="918" r="5"/><circle cx="1077" cy="952" r="5"/><circle cx="983" cy="1011" r="4"/><circle cx="984" cy="1039" r="4"/><circle cx="989" cy="1057" r="3"/><circle cx="983" cy="1064" r="2"/></g>
<g fill="#4a78c0"><circle cx="822" cy="995" r="4"/><circle cx="822" cy="1019" r="4"/><circle cx="822" cy="1048" r="3.5"/><circle cx="818" cy="1067" r="3"/><circle cx="826" cy="1062" r="3"/></g>
<g stroke="#c0306a" stroke-width="1.5"><line x1="976" y1="835" x2="987" y2="845"/><line x1="1007" y1="834" x2="1011" y2="842"/><line x1="976" y1="865" x2="985" y2="875"/><line x1="1036" y1="868" x2="1003" y2="876"/><line x1="998" y1="903" x2="1033" y2="902"/><line x1="978" y1="903" x2="986" y2="912"/><line x1="972" y1="928" x2="983" y2="920"/><line x1="1013" y1="927" x2="1000" y2="920"/><line x1="992" y1="955" x2="988" y2="920"/><line x1="1070" y1="965" x2="1076" y2="957"/><line x1="975" y1="993" x2="982" y2="1008"/><line x1="995" y1="1030" x2="985" y2="1040"/><line x1="973" y1="1025" x2="982" y2="1036"/><line x1="1002" y1="1068" x2="990" y2="1058"/></g>
<g font-size="12"><text x="948" y="837" style="fill:#c0306a">JAK1</text><text x="1041" y="837" style="fill:#c0306a">SOCS1</text><text x="1000" y="850" style="fill:#c0306a">STAT3</text><text x="948" y="868" style="fill:#c0306a">IL7R</text><text x="1037" y="874" style="fill:#c0306a">PIK3R1</text><text x="940" y="903" style="fill:#c0306a">IL10RA</text><text x="1008" y="903" style="fill:#c0306a">CBL</text><text x="1030" y="903" style="fill:#c0306a">BSOCS3</text><text x="936" y="933" style="fill:#c0306a">STAT4</text><text x="1010" y="933" style="fill:#c0306a">STAT1</text><text x="985" y="962" style="fill:#c0306a">PIM1</text><text x="1045" y="972" style="fill:#c0306a">IFNG</text><text x="934" y="994" style="fill:#c0306a">IL2RA</text><text x="950" y="1032" style="fill:#c0306a">TNF</text><text x="997" y="1034" style="fill:#c0306a">MYC</text><text x="940" y="1074" style="fill:#c0306a">XCL2</text><text x="1002" y="1074" style="fill:#c0306a">XCL1</text></g>
<g stroke="#2a64b4" stroke-width="1.5"><line x1="822" y1="995" x2="825" y2="985"/><line x1="822" y1="1019" x2="874" y2="1005"/><line x1="822" y1="1048" x2="832" y2="1037"/><line x1="826" y1="1062" x2="888" y2="1042"/><line x1="818" y1="1067" x2="845" y2="1070"/></g>
<g font-size="12"><text x="818" y="984" style="fill:#2a64b4">RPS17</text><text x="876" y="1009" style="fill:#2a64b4">RPL13A</text><text x="832" y="1038" style="fill:#2a64b4">STMN1</text><text x="889" y="1043" style="fill:#2a64b4">MT1X</text><text x="840" y="1074" style="fill:#2a64b4">IGKC</text></g>
<text x="840" y="843" font-size="18">Trend</text>
<circle cx="852" cy="868" r="4" fill="#4a78c0"/><circle cx="852" cy="893" r="4" fill="#c4c4c4"/><circle cx="852" cy="918" r="4" fill="#cc5577"/>
<g font-size="15"><text x="875" y="873">down</text><text x="875" y="898">non−sig</text><text x="875" y="923">up</text></g>

<!-- Panel L -->
<text x="762" y="1206" font-size="26">L</text>
<text x="958" y="1186" font-size="18" text-anchor="middle">Percent of geneRatio</text>
<g font-size="14" text-anchor="middle"><text x="860" y="1205">0%</text><text x="903" y="1205">10%</text><text x="945" y="1205">20%</text><text x="988" y="1205">30%</text><text x="1030" y="1205">40%</text><text x="1067" y="1205">50%</text></g>
<rect x="850" y="1213" width="228" height="30" fill="#d9d9d9" stroke="#333" stroke-width="1"/>
<text x="964" y="1234" font-size="15" font-weight="bold" font-style="italic" text-anchor="middle">BP</text>
<rect x="850" y="1243" width="228" height="257" fill="none" stroke="#333" stroke-width="1"/>
<g fill="url(#gL)">
<rect x="859" y="1250" width="21" height="16"/><rect x="859" y="1272" width="33" height="16"/><rect x="859" y="1295" width="21" height="16"/><rect x="859" y="1317" width="23" height="16"/><rect x="859" y="1340" width="27" height="16"/><rect x="859" y="1362" width="32" height="16"/><rect x="859" y="1385" width="36" height="16"/><rect x="859" y="1407" width="37" height="16"/><rect x="859" y="1430" width="41" height="16"/><rect x="859" y="1452" width="61" height="16"/><rect x="859" y="1475" width="49" height="16"/>
</g>
<g fill="#fff" stroke="#111" stroke-width="1.3">
<circle cx="880" cy="1258" r="8"/><circle cx="892" cy="1280" r="8"/><circle cx="880" cy="1303" r="8"/><circle cx="882" cy="1325" r="8"/><circle cx="886" cy="1348" r="8"/><circle cx="891" cy="1370" r="8"/><circle cx="895" cy="1393" r="8"/><circle cx="896" cy="1415" r="8"/><circle cx="900" cy="1438" r="8"/><circle cx="920" cy="1460" r="8"/><circle cx="908" cy="1483" r="8"/>
</g>
<polyline points="953,1258 953,1281 971,1303 971,1415 992,1438 1048,1460 1068,1483" fill="none" stroke="#f0c020" stroke-width="4"/>
<g font-size="15" text-anchor="end">
<text x="842" y="1263">positive regulation of T cell activation</text><text x="842" y="1285">regulation of CD4−positive, alpha−beta T cell activation</text><text x="842" y="1308">positive regulation of cytokine production</text><text x="842" y="1330">regulation of T cell activation</text><text x="842" y="1353">T cell differentiation</text><text x="842" y="1375">alpha−beta T cell activation</text><text x="842" y="1398">CD4−positive, alpha−beta T cell activation</text><text x="842" y="1420">regulation of receptor signaling pathway via JAK−STAT</text><text x="842" y="1443">response to type II interferon</text><text x="842" y="1465">receptor signaling pathway via JAK−STAT</text><text x="842" y="1488">cytokine−mediated signaling pathway</text></g>
<g font-size="15" text-anchor="middle"><text x="861" y="1517">0</text><text x="903" y="1517">10</text><text x="945" y="1517">20</text><text x="985" y="1517">30</text><text x="1026" y="1517">40</text><text x="1067" y="1517">50</text></g>
<text x="950" y="1539" font-size="18" text-anchor="middle">−log10 Pvalue</text>

<!-- Panel G -->
<text x="8" y="843" font-size="26">G</text>
<g stroke="#111" stroke-width="1.2">
<rect x="41" y="852" width="24" height="18" fill="#f08080"/><rect x="41" y="870" width="24" height="18" fill="#f08080"/><rect x="41" y="888" width="24" height="18" fill="#f08080"/>
<rect x="41" y="912" width="24" height="18" fill="#86aadd"/><rect x="41" y="930" width="24" height="18" fill="#86aadd"/><rect x="41" y="948" width="24" height="18" fill="#86aadd"/>
<rect x="41" y="972" width="24" height="18" fill="#3cb14a"/><rect x="41" y="990" width="24" height="18" fill="#3cb14a"/><rect x="41" y="1008" width="24" height="18" fill="#3cb14a"/><rect x="41" y="1026" width="24" height="18" fill="#3cb14a"/><rect x="41" y="1044" width="24" height="18" fill="#3cb14a"/>
</g>
<g stroke="#bbb" stroke-width="0.3">
<rect x="68" y="852" width="19.4" height="18" fill="#dcedf6"/><rect x="87.4" y="852" width="19.4" height="18" fill="#f6f9fb"/><rect x="106.8" y="852" width="19.4" height="18" fill="#f6c3d0"/><rect x="126.2" y="852" width="19.4" height="18" fill="#b8dcee"/><rect x="145.6" y="852" width="19.4" height="18" fill="#dcedf6"/>
<rect x="68" y="870" width="19.4" height="18" fill="#dcedf6"/><rect x="87.4" y="870" width="19.4" height="18" fill="#f6f9fb"/><rect x="106.8" y="870" width="19.4" height="18" fill="#f6c3d0"/><rect x="126.2" y="870" width="19.4" height="18" fill="#b8dcee"/><rect x="145.6" y="870" width="19.4" height="18" fill="#dcedf6"/>
<rect x="68" y="888" width="19.4" height="18" fill="#c6e2f1"/><rect x="87.4" y="888" width="19.4" height="18" fill="#f6c3d0"/><rect x="106.8" y="888" width="19.4" height="18" fill="#f6c3d0"/><rect x="126.2" y="888" width="19.4" height="18" fill="#b8dcee"/><rect x="145.6" y="888" width="19.4" height="18" fill="#dcedf6"/>
<rect x="68" y="912" width="19.4" height="18" fill="#fbe3e8"/><rect x="87.4" y="912" width="19.4" height="18" fill="#b8dcee"/><rect x="106.8" y="912" width="19.4" height="18" fill="#b8dcee"/><rect x="126.2" y="912" width="19.4" height="18" fill="#fdeef1"/><rect x="145.6" y="912" width="19.4" height="18" fill="#fdeef1"/>
<rect x="68" y="930" width="19.4" height="18" fill="#fbe3e8"/><rect x="87.4" y="930" width="19.4" height="18" fill="#c6e2f1"/><rect x="106.8" y="930" width="19.4" height="18" fill="#b8dcee"/><rect x="126.2" y="930" width="19.4" height="18" fill="#fdeef1"/><rect x="145.6" y="930" width="19.4" height="18" fill="#fdeef1"/>
<rect x="68" y="948" width="19.4" height="18" fill="#c6e2f1"/><rect x="87.4" y="948" width="19.4" height="18" fill="#f6f9fb"/><rect x="106.8" y="948" width="19.4" height="18" fill="#f6c3d0"/><rect x="126.2" y="948" width="19.4" height="18" fill="#dcedf6"/><rect x="145.6" y="948" width="19.4" height="18" fill="#dcedf6"/>
<rect x="68" y="972" width="19.4" height="18" fill="#f9d6de"/><rect x="87.4" y="972" width="19.4" height="18" fill="#c6e2f1"/><rect x="106.8" y="972" width="19.4" height="18" fill="#c6e2f1"/><rect x="126.2" y="972" width="19.4" height="18" fill="#f6f9fb"/><rect x="145.6" y="972" width="19.4" height="18" fill="#f9d6de"/>
<rect x="68" y="990" width="19.4" height="18" fill="#c6e2f1"/><rect x="87.4" y="990" width="19.4" height="18" fill="#f6c3d0"/><rect x="106.8" y="990" width="19.4" height="18" fill="#f6f9fb"/><rect x="126.2" y="990" width="19.4" height="18" fill="#c6e2f1"/><rect x="145.6" y="990" width="19.4" height="18" fill="#f6f9fb"/>
<rect x="68" y="1008" width="19.4" height="18" fill="#fbe3e8"/><rect x="87.4" y="1008" width="19.4" height="18" fill="#c6e2f1"/><rect x="106.8" y="1008" width="19.4" height="18" fill="#c6e2f1"/><rect x="126.2" y="1008" width="19.4" height="18" fill="#f6c3d0"/><rect x="145.6" y="1008" width="19.4" height="18" fill="#f6f9fb"/>
<rect x="68" y="1026" width="19.4" height="18" fill="#fbe3e8"/><rect x="87.4" y="1026" width="19.4" height="18" fill="#c6e2f1"/><rect x="106.8" y="1026" width="19.4" height="18" fill="#dcedf6"/><rect x="126.2" y="1026" width="19.4" height="18" fill="#dcedf6"/><rect x="145.6" y="1026" width="19.4" height="18" fill="#f6c3d0"/>
<rect x="68" y="1044" width="19.4" height="18" fill="#fbe3e8"/><rect x="87.4" y="1044" width="19.4" height="18" fill="#b8dcee"/><rect x="106.8" y="1044" width="19.4" height="18" fill="#c6e2f1"/><rect x="126.2" y="1044" width="19.4" height="18" fill="#fdeef1"/><rect x="145.6" y="1044" width="19.4" height="18" fill="#fdeef1"/>
</g>
<g font-size="19"><text x="170" y="868">GZMB</text><text x="170" y="886">PRF1</text><text x="170" y="904">GNLY</text><text x="170" y="928">CD27</text><text x="170" y="946">TNFRSF9</text><text x="170" y="964">CD226</text><text x="170" y="988">PDCD1</text><text x="170" y="1006">KLRC1</text><text x="170" y="1024">CTLA4</text><text x="170" y="1042">LAG3</text><text x="170" y="1060">TIGIT</text></g>
<text transform="translate(44,1068) rotate(90)" font-size="18" font-weight="bold">type</text>
<g font-size="18"><text transform="translate(72,1068) rotate(90)">Cycling T−cells</text><text transform="translate(91,1068) rotate(90)">NK cells</text><text transform="translate(111,1068) rotate(90)">NKT cells</text><text transform="translate(130,1068) rotate(90)">T cells CD4+</text><text transform="translate(149,1068) rotate(90)">T cells CD8+</text></g>
<rect x="273" y="852" width="20" height="273" fill="url(#gG)"/>
<g font-size="18"><text x="302" y="879">1.5</text><text x="302" y="918">1</text><text x="302" y="956">0.5</text><text x="302" y="995">0</text><text x="302" y="1034">−0.5</text><text x="302" y="1073">−1</text><text x="302" y="1112">−1.5</text></g>

<!-- Panel H -->
<text x="5" y="1211" font-size="26">H</text>
<g stroke="#111" stroke-width="1.2">
<rect x="40" y="1208" width="22" height="27" fill="#f08080"/><rect x="40" y="1235" width="22" height="27" fill="#f08080"/><rect x="40" y="1262" width="22" height="27" fill="#f08080"/>
<rect x="40" y="1296" width="22" height="27" fill="#86aadd"/><rect x="40" y="1323" width="22" height="27" fill="#86aadd"/><rect x="40" y="1350" width="22" height="27" fill="#86aadd"/>
<rect x="40" y="1384" width="22" height="27" fill="#3cb14a"/><rect x="40" y="1411" width="22" height="27" fill="#3cb14a"/><rect x="40" y="1438" width="22" height="27" fill="#3cb14a"/><rect x="40" y="1465" width="22" height="27" fill="#3cb14a"/><rect x="40" y="1492" width="22" height="27" fill="#3cb14a"/>
</g>
<g stroke="#999" stroke-width="0.3">
<rect x="68" y="1208" width="25" height="81" fill="#f6c3d0"/><rect x="93" y="1208" width="27" height="81" fill="#8ecbe4"/>
<rect x="68" y="1296" width="25" height="54" fill="#8ecbe4"/><rect x="93" y="1296" width="27" height="54" fill="#f6c3d0"/>
<rect x="68" y="1350" width="25" height="27" fill="#f6c3d0"/><rect x="93" y="1350" width="27" height="27" fill="#8ecbe4"/>
<rect x="68" y="1384" width="25" height="135" fill="#8ecbe4"/><rect x="93" y="1384" width="27" height="135" fill="#f6c3d0"/>
<line x1="68" y1="1235" x2="120" y2="1235"/><line x1="68" y1="1262" x2="120" y2="1262"/><line x1="68" y1="1323" x2="120" y2="1323"/><line x1="68" y1="1411" x2="120" y2="1411"/><line x1="68" y1="1438" x2="120" y2="1438"/><line x1="68" y1="1465" x2="120" y2="1465"/><line x1="68" y1="1492" x2="120" y2="1492"/>
</g>
<g font-size="19"><text x="124" y="1229">GZMB</text><text x="124" y="1256">TBX21</text><text x="124" y="1283">IL2RA</text><text x="124" y="1316">CD27</text><text x="124" y="1343">TNFRSF9</text><text x="124" y="1370">CD226</text><text x="124" y="1404">PDCD1</text><text x="124" y="1431">KLRC1</text><text x="124" y="1458">CTLA4</text><text x="124" y="1485">LAG3</text><text x="124" y="1512">TIGIT</text></g>
<text transform="translate(44,1524) rotate(90)" font-size="18" font-weight="bold">type</text>
<g font-size="18"><text transform="translate(74,1524) rotate(90)">High</text><text transform="translate(100,1524) rotate(90)">Low</text></g>
<rect x="223" y="1208" width="19" height="282" fill="url(#gG)"/>
<g font-size="18"><text x="250" y="1237">0.6</text><text x="250" y="1278">0.4</text><text x="250" y="1317">0.2</text><text x="250" y="1357">0</text><text x="250" y="1397">−0.2</text><text x="250" y="1437">−0.4</text><text x="250" y="1477">−0.6</text></g>
<text x="296" y="1222" font-size="19" font-weight="bold">type</text>
<g stroke="#111" stroke-width="1"><rect x="296" y="1228" width="27" height="29" fill="#3cb14a"/><rect x="296" y="1258" width="27" height="28" fill="#f08080"/><rect x="296" y="1287" width="27" height="28" fill="#86aadd"/></g>
<g font-size="20"><text x="328" y="1250">Checkpoint</text><text x="328" y="1279">Cytotoxity</text><text x="328" y="1307">Stimulatory</text></g>
</svg>
</body></html>
